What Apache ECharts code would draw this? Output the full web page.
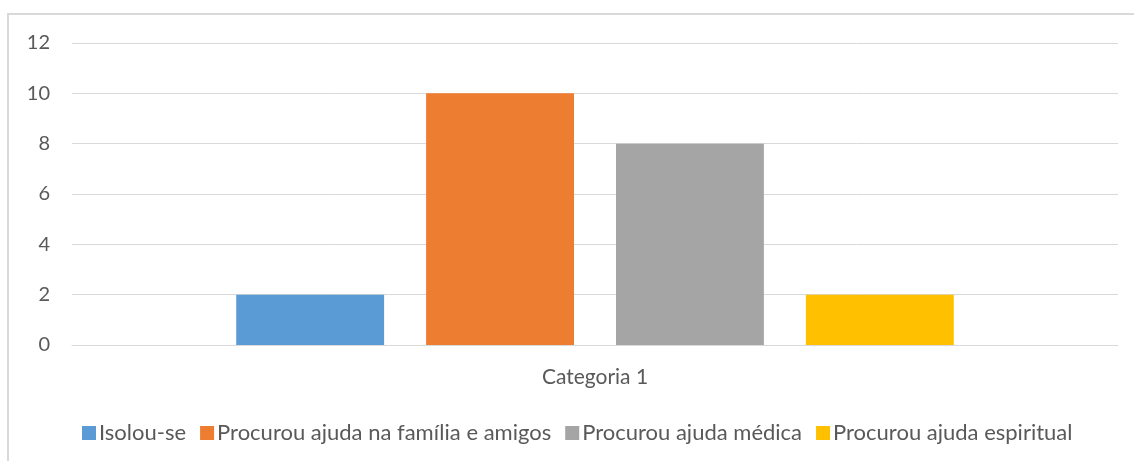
<!DOCTYPE html>
<html>
<head>
    <meta charset="utf-8">
    <title>Categoria 1</title>
    <script src="https://cdnjs.cloudflare.com/ajax/libs/echarts/6.0.0/echarts.min.js"></script>
    <style>
        html, body { margin: 0; padding: 0; background: #fff; }
        #chart { width: 1134px; height: 461px; }
    </style>
</head>
<body>
    <div id="chart"></div>
    <script>
        // dados do gráfico
        var categorias = ['Categoria 1'];
        var series_nomes = ['Isolou-se', 'Procurou ajuda na família e amigos', 'Procurou ajuda médica', 'Procurou ajuda espiritual'];
        var series_valores = [[2], [10], [8], [2]];
        var cores = ['#5B9BD5', '#ED7D31', '#A5A5A5', '#FFC000'];
        var y_ticks = [0, 2, 4, 6, 8, 10, 12];

        var fonte = 'Lato, "Open Sans", sans-serif';
        var chart = echarts.init(document.getElementById('chart'));

        chart.setOption({
            animation: false,
            graphic: [{
                type: 'rect',
                shape: { x: 8, y: 14, width: 1200, height: 500 },
                style: { fill: 'none', stroke: '#d9d9d9', lineWidth: 2 },
                silent: true
            }],
            grid: { left: 72, right: 16, top: 43, bottom: 116 },
            legend: {
                top: 417,
                left: 77,
                itemWidth: 14,
                itemHeight: 14,
                itemGap: 14,
                icon: 'rect',
                textStyle: { color: '#595959', fontSize: 22, fontFamily: fonte, padding: [0, 0, 0, -2] },
                data: series_nomes
            },
            xAxis: {
                type: 'category',
                data: categorias,
                axisLine: { lineStyle: { color: '#d9d9d9' } },
                axisTick: { show: false },
                axisLabel: { color: '#595959', fontSize: 21, fontFamily: fonte, margin: 22 }
            },
            yAxis: {
                type: 'value',
                min: y_ticks[0],
                max: y_ticks[y_ticks.length - 1],
                interval: 2,
                axisLine: { show: false },
                axisTick: { show: false },
                axisLabel: { color: '#595959', fontSize: 20, fontFamily: fonte, margin: 22 },
                splitLine: { lineStyle: { color: '#d9d9d9', width: 1 } }
            },
            series: series_nomes.map(function (nome, i) {
                return {
                    name: nome,
                    type: 'bar',
                    data: series_valores[i],
                    itemStyle: { color: cores[i] },
                    barGap: '28.4%',
                    barCategoryGap: '31.4%'
                };
            })
        });
    </script>
</body>
</html>
